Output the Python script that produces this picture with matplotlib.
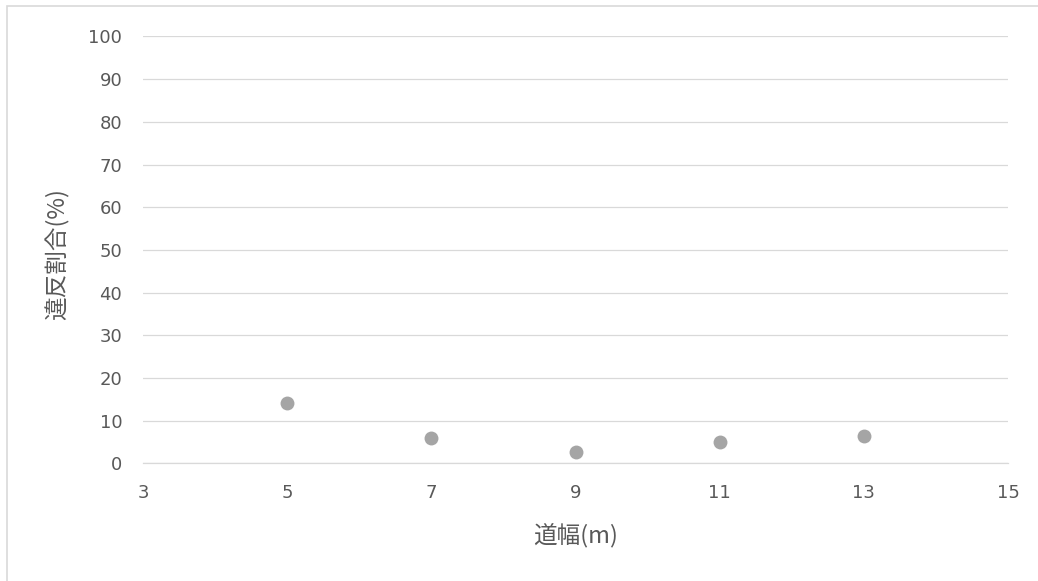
import matplotlib
matplotlib.use("Agg")
import matplotlib.pyplot as plt
from matplotlib.patches import Rectangle

# 道幅ごとの違反割合
road_width = [5, 7, 9, 11, 13]
violation_pct = [14.1, 5.9, 2.7, 5.1, 6.4]

x_ticks = [3, 5, 7, 9, 11, 13, 15]
y_ticks = list(range(0, 101, 10))

plt.rcParams["font.family"] = ["DejaVu Sans", "Noto Sans CJK JP"]
jp_font = ["Noto Sans CJK JP", "DejaVu Sans"]

fig = plt.figure(figsize=(10.38, 5.81), dpi=100)
ax = fig.add_axes([0.1378, 0.2026, 0.8333, 0.7346])

ax.scatter(road_width, violation_pct, s=100, color="#a5a5a5", zorder=3, linewidths=0)

ax.set_xlim(3, 15)
ax.set_ylim(0, 100)
ax.set_xticks(x_ticks)
ax.set_yticks(y_ticks)
ax.tick_params(length=0, labelsize=13, labelcolor="#595959", pad=15)

ax.grid(axis="y", color="#d9d9d9", linewidth=0.9)
ax.set_axisbelow(True)
for side in ["left", "right", "top"]:
    ax.spines[side].set_visible(False)
ax.spines["bottom"].set_color("#d9d9d9")
ax.spines["bottom"].set_linewidth(0.9)

ax.set_xlabel("道幅(m)", family=jp_font, fontsize=17, color="#595959", va="center")
ax.set_ylabel("違反割合(%)", family=jp_font, fontsize=17, color="#595959", va="center")
ax.xaxis.set_label_coords(0.5, -0.168)
ax.yaxis.set_label_coords(-0.0994, 0.49)

# cadre gris (seulement haut et gauche visibles dans la capture)
fig.patches.append(Rectangle((0.0067, -0.5), 2, 0.9897 + 0.5, transform=fig.transFigure,
                             fill=False, edgecolor="#d9d9d9", linewidth=1.2))

fig.savefig("out.png", dpi=100)
